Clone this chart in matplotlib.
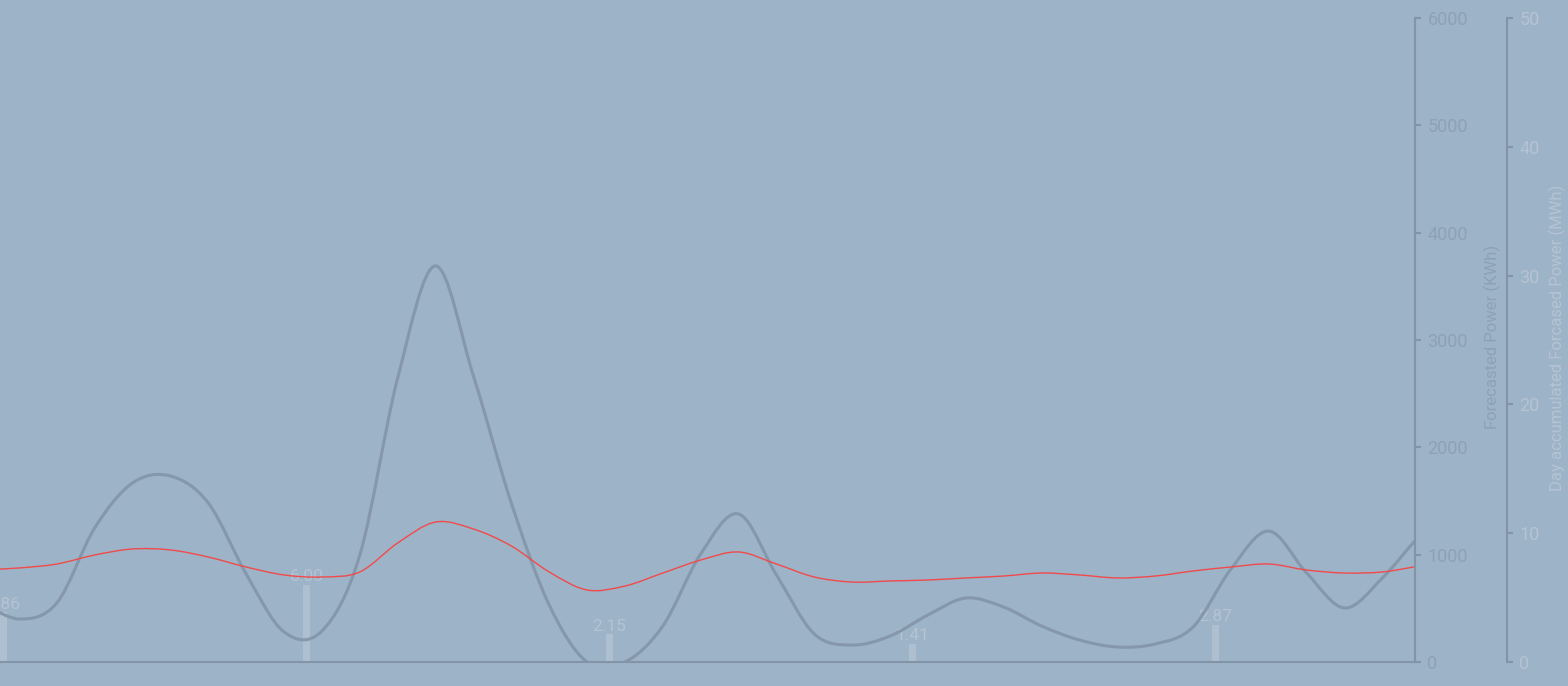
import numpy as np
import matplotlib
matplotlib.use("Agg")
import matplotlib.pyplot as plt
from matplotlib.path import Path
from matplotlib.patches import PathPatch

# -------------------------
# DATOS
# -------------------------
# horas desde el inicio (una muestra cada 3 h, desplazada 1.5 h)
horas = np.arange(-1.5, 116, 3.0)

# potencia prevista (KWh)
potencia_gris = [560, 401, 550, 1249, 1668, 1733, 1481, 820, 280, 289,
                 997, 2646, 3690, 2665, 1481, 531, 0, 0, 335, 1006,
                 1379, 811, 261, 158, 242, 438, 596, 512, 335, 205,
                 140, 168, 326, 866, 1220, 829, 503, 783, 1183, 1500]

potencia_roja = [857, 876, 913, 997, 1053, 1044, 978, 885, 811, 792,
                 839, 1109, 1304, 1239, 1081, 839, 671, 708, 829, 950,
                 1025, 913, 792, 745, 755, 764, 783, 801, 829, 811,
                 783, 801, 848, 885, 913, 857, 829, 839, 894, 930]

# acumulado diario (MWh)
dias = [0, 24, 48, 72, 96]
acumulado = [3.86, 6.00, 2.15, 1.41, 2.87]

# -------------------------
# COLORES
# -------------------------
FONDO = "#9DB3C7"
EJE = "#8394A8"
GRIS = "#8497AB"
ROJO = "#F24A4A"
BARRA = "#AEBFCF"
TXT_OSCURO = "#8EA1B5"
TXT_CLARO = "#B4C4D4"

plt.rcParams["font.family"] = ["Roboto", "DejaVu Sans"]


def curva_suave(xs, ys):
    # catmull-rom -> bezier cubico
    p = np.column_stack([xs, ys]).astype(float)
    p = np.vstack([p[0], p, p[-1]])
    verts = [p[1]]
    codes = [Path.MOVETO]
    for i in range(1, len(p) - 2):
        c1 = p[i] + (p[i + 1] - p[i - 1]) / 6
        c2 = p[i + 1] - (p[i + 2] - p[i]) / 6
        verts += [c1, c2, p[i + 1]]
        codes += [Path.CURVE4] * 3
    return Path(verts, codes)


fig = plt.figure(figsize=(15.68, 6.86), dpi=100, facecolor=FONDO)
ax_bar = fig.add_axes([0, 1 - 662 / 686, 1415 / 1568, 644 / 686])
ax_bar.set_facecolor(FONDO)
ax_pow = ax_bar.twinx()
ax_pow.patch.set_visible(False)

# barras (eje MWh)
barras = ax_bar.bar(dias, acumulado, width=0.55, align="edge", color=BARRA, zorder=1)
for b, v in zip(barras, acumulado):
    ax_bar.annotate(f"{v:.2f}", (b.get_x() + b.get_width() / 2, b.get_height()),
                    xytext=(0, 0.5), textcoords="offset points", ha="center", va="bottom",
                    color=TXT_CLARO, fontsize=12.5, clip_on=True)

# curvas (eje KWh)
ax_pow.add_patch(PathPatch(curva_suave(horas, potencia_gris), fill=False,
                           edgecolor=GRIS, lw=2.2, capstyle="round"))
ax_pow.add_patch(PathPatch(curva_suave(horas, potencia_roja), fill=False,
                           edgecolor=ROJO, lw=1.0))

xmax = 1415 / (303 / 24)
ax_bar.set_xlim(0, xmax)
ax_bar.set_ylim(0, 50)
ax_pow.set_ylim(0, 6000)

for ax in (ax_bar, ax_pow):
    ax.spines["left"].set_visible(False)
    ax.spines["top"].set_visible(False)
    ax.spines["bottom"].set_visible(False)
    ax.set_xticks([])
    ax.yaxis.tick_right()

ax_pow.spines["bottom"].set_visible(True)
ax_pow.spines["bottom"].set_color(EJE)
ax_pow.spines["bottom"].set_linewidth(1.5)
ax_pow.spines["right"].set_color(EJE)
ax_pow.spines["right"].set_linewidth(1.5)
ax_pow.set_yticks(np.arange(0, 6001, 1000))
ax_pow.tick_params(axis="y", colors=EJE, labelcolor=TXT_OSCURO, length=4,
                   width=1.5, labelsize=13, pad=5)

ax_bar.spines["right"].set_position(("outward", 92 * 0.72))
ax_bar.spines["right"].set_color(EJE)
ax_bar.spines["right"].set_linewidth(1.5)
ax_bar.set_yticks(np.arange(0, 51, 10))
ax_bar.tick_params(axis="y", colors=EJE, labelcolor=TXT_CLARO, length=4,
                   width=1.5, labelsize=13, pad=5)

fig.text(1492 / 1568, 1 - 337 / 686, "Forecasted Power (KWh)", rotation=90,
         ha="center", va="center", color=TXT_OSCURO, fontsize=12)
fig.text(1557 / 1568, 1 - 338 / 686, "Day accumulated Forcased Power (MWh)", rotation=90,
         ha="center", va="center", color=TXT_CLARO, fontsize=12)

fig.savefig("out.png", dpi=100, facecolor=FONDO)
